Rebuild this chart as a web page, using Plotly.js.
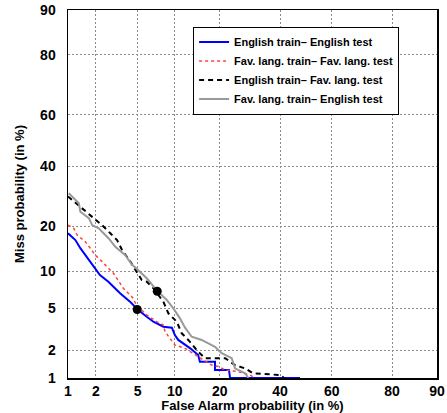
<!DOCTYPE html>
<html>
<head>
<meta charset="utf-8">
<script src="https://cdn.plot.ly/plotly-3.0.1.min.js"></script>
<style>html,body{margin:0;padding:0;background:#fff}#chart{width:447px;height:413px}</style>
</head>
<body>
<div id="chart"></div>
<script>
// ---- data (percent) ----
const tickValues = [1, 2, 5, 10, 20, 40, 60, 80, 90];
const tickLabels = ['1', '2', '5', '10', '20', '40', '60', '80', '90'];

const engEngFA   = [1.0, 1.21, 1.37, 1.55, 1.83, 2.2, 2.67, 3.46, 4.27, 4.96, 5.98, 6.79, 8.16, 9.2, 9.5, 10.0, 10.6, 12.9, 14.6, 15.0, 18.7, 18.7, 22.6, 22.9, 47.7];
const engEngMiss = [18.2, 16.5, 14.6, 13.1, 11.2, 9.4, 8.35, 6.73, 5.73, 4.92, 4.22, 3.80, 3.41, 3.34, 3.34, 2.84, 2.54, 2.09, 1.78, 1.51, 1.51, 1.23, 1.23, 1.0, 1.0];

const favFavFA   = [1.0, 1.16, 1.26, 1.55, 1.75, 1.97, 2.31, 2.99, 3.71, 4.57, 4.85, 5.98, 7.23, 8.16, 8.42, 10.0, 11.86, 14.6, 17.85, 19.6, 21.5, 25.4, 29.2, 30.9];
const favFavMiss = [20.4, 19.5, 17.8, 16.1, 14.6, 13.1, 11.8, 9.68, 7.40, 6.12, 5.37, 4.38, 3.80, 3.54, 3.06, 2.26, 2.09, 1.71, 1.39, 1.34, 1.23, 1.18, 1.08, 1.0];

const engFavFA   = [1.0, 1.11, 1.49, 1.90, 2.31, 2.79, 3.24, 3.61, 4.30, 5.42, 5.98, 6.79, 8.16, 8.93, 10.33, 11.23, 12.5, 14.6, 16.2, 21.5, 24.4, 27.6, 30.3, 40.0, 41.6];
const engFavMiss = [29.2, 28.1, 24.9, 22.4, 20.4, 18.2, 16.5, 14.2, 11.8, 8.61, 8.35, 7.40, 5.73, 4.53, 3.80, 2.95, 2.54, 1.93, 1.65, 1.65, 1.39, 1.28, 1.13, 1.08, 1.0];

const favEngFA   = [1.02, 1.32, 1.37, 1.69, 1.83, 2.14, 2.69, 3.12, 3.87, 4.45, 4.85, 5.98, 7.3, 8.68, 9.74, 10.9, 11.86, 13.2, 15.4, 17.0, 18.7, 20.5, 23.4, 24.4, 27.6, 28.7];
const favEngMiss = [30.3, 27.0, 24.3, 22.4, 20.4, 19.5, 16.9, 14.9, 13.1, 11.2, 10.56, 8.87, 7.04, 5.92, 5.02, 4.08, 3.34, 2.73, 2.54, 2.35, 2.17, 1.86, 1.65, 1.28, 1.13, 1.0];

const eerFA   = [4.95, 7.3];
const eerMiss = [4.9, 7.0];

const seriesNames = [
  'English train\u2013 English test',
  'Fav. lang. train\u2013 Fav. lang. test',
  'English train\u2013 Fav. lang. test',
  'Fav. lang. train\u2013 English test'
];

// ---- normal deviate (probit) scale ----
function probit(p) {
  const a = [-3.969683028665376e+01, 2.209460984245205e+02, -2.759285104469687e+02, 1.383577518672690e+02, -3.066479806614716e+01, 2.506628277459239e+00];
  const b = [-5.447609879822406e+01, 1.615858368580409e+02, -1.556989798598866e+02, 6.680131188771972e+01, -1.328068155288572e+01];
  const c = [-7.784894002430293e-03, -3.223964580411365e-01, -2.400758277161838e+00, -2.549732539343734e+00, 4.374664141464968e+00, 2.938163982698783e+00];
  const d = [7.784695709041462e-03, 3.224671290700398e-01, 2.445134137142996e+00, 3.754408661907416e+00];
  const pl = 0.02425, ph = 1 - pl;
  let q, r;
  if (p < pl) {
    q = Math.sqrt(-2 * Math.log(p));
    return (((((c[0]*q+c[1])*q+c[2])*q+c[3])*q+c[4])*q+c[5]) / ((((d[0]*q+d[1])*q+d[2])*q+d[3])*q+1);
  } else if (p <= ph) {
    q = p - 0.5; r = q*q;
    return (((((a[0]*r+a[1])*r+a[2])*r+a[3])*r+a[4])*r+a[5])*q / (((((b[0]*r+b[1])*r+b[2])*r+b[3])*r+b[4])*r+1);
  } else {
    q = Math.sqrt(-2 * Math.log(1 - p));
    return -(((((c[0]*q+c[1])*q+c[2])*q+c[3])*q+c[4])*q+c[5]) / ((((d[0]*q+d[1])*q+d[2])*q+d[3])*q+1);
  }
}
const pz = arr => arr.map(v => probit(v / 100));

const traces = [
  {x: pz(engEngFA), y: pz(engEngMiss), name: seriesNames[0], mode: 'lines',
   line: {color: '#0000ff', width: 2}, hoverinfo: 'skip'},
  {x: pz(favFavFA), y: pz(favFavMiss), name: seriesNames[1], mode: 'lines',
   line: {color: '#ff4040', width: 1.5, dash: 'dot'}, hoverinfo: 'skip'},
  {x: pz(engFavFA), y: pz(engFavMiss), name: seriesNames[2], mode: 'lines',
   line: {color: '#000000', width: 2, dash: '5px,4px'}, hoverinfo: 'skip'},
  {x: pz(favEngFA), y: pz(favEngMiss), name: seriesNames[3], mode: 'lines',
   line: {color: '#999999', width: 2}, hoverinfo: 'skip'},
  {x: pz(eerFA), y: pz(eerMiss), mode: 'markers', showlegend: false,
   marker: {color: '#000000', size: 9}, hoverinfo: 'skip'}
];

const fontFam = '"Liberation Sans", Arial, Helvetica, sans-serif';
const axisCommon = {
  range: [probit(0.01), probit(0.9)],
  tickvals: pz(tickValues),
  ticktext: tickLabels,
  showgrid: true,
  gridcolor: '#8c8c8c',
  griddash: '1.5px,2.5px',
  gridwidth: 1,
  zeroline: false,
  showline: true,
  mirror: true,
  linecolor: '#000000',
  linewidth: 1.5,
  ticks: '',
  layer: 'below traces',
  tickfont: {family: fontFam, size: 14, color: '#000', weight: 'bold'}
};

const layout = {
  width: 447, height: 413,
  margin: {l: 68, r: 10, t: 10, b: 35},
  paper_bgcolor: '#fff', plot_bgcolor: '#fff',
  font: {family: fontFam, color: '#000'},
  xaxis: Object.assign({}, axisCommon, {
    ticklabelstandoff: 0,
    title: {text: '<b>False Alarm probability (in %)</b>', font: {family: fontFam, size: 13, color: '#000'}, standoff: 0}
  }),
  yaxis: Object.assign({}, axisCommon, {
    ticklabelstandoff: 8,
    title: {text: '<b>Miss probability (in %)</b>', font: {family: fontFam, size: 13, color: '#000'}, standoff: 12}
  }),
  legend: {
    x: 0.339, y: 0.955, xanchor: 'left', yanchor: 'top',
    bgcolor: '#fff', bordercolor: '#000', borderwidth: 1,
    font: {family: fontFam, size: 11, color: '#000', weight: 'bold'},
    tracegroupgap: 0
  },
  showlegend: true
};

Plotly.newPlot('chart', traces, layout, {staticPlot: true, displayModeBar: false});
</script>
</body>
</html>
